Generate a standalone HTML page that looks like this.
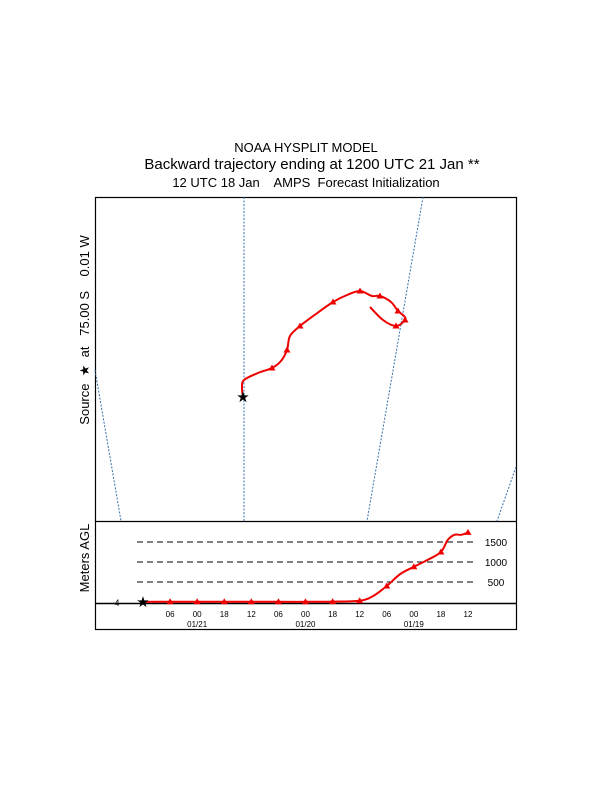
<!DOCTYPE html>
<html><head><meta charset="utf-8"><style>
body{margin:0;background:#fff}
svg{display:block;font-family:"Liberation Sans",sans-serif}
</style></head><body>
<svg id="c" width="612" height="792" viewBox="0 0 612 792">
<text x="306" y="152" font-size="13" text-anchor="middle">NOAA HYSPLIT MODEL</text>
<text x="312" y="169" font-size="15" text-anchor="middle">Backward trajectory ending at 1200 UTC 21 Jan **</text>
<text x="306" y="187" font-size="13" text-anchor="middle" xml:space="preserve">12 UTC 18 Jan    AMPS  Forecast Initialization</text>
<rect x="95.5" y="197.5" width="421" height="432" fill="none" stroke="#000" stroke-width="1.2"/>
<line x1="95" y1="521.5" x2="516" y2="521.5" stroke="#000" stroke-width="1.2"/>
<g stroke="#3a6fa8" stroke-width="1" stroke-dasharray="2,1.5" fill="none">
<line x1="244" y1="197" x2="244" y2="521"/>
<line x1="423" y1="197" x2="367" y2="521"/>
<line x1="95" y1="370" x2="121" y2="521"/>
<line x1="516" y1="467" x2="497" y2="521"/>
</g>
<text transform="translate(89,330) rotate(-90)" font-size="13" text-anchor="middle" xml:space="preserve">Source  ★  at   75.00 S    0.01 W</text>
<text transform="translate(89,558) rotate(-90)" font-size="13" text-anchor="middle">Meters AGL</text>
<g id="g"></g>
</svg>
<script>
// trajectory map track (pixel-projected positions, hourly nodes with markers every 6h)
const trackX = [243,242,244,258,272,281,287,290,300,316,333,347,360,372,380,391,398,404,405,396,383,370];
const trackY = [397,388,380,373,368,361,350,336,326,314,302,295,291,296,296,302,311,316,320,326,320,307];
const markerIdx = [4,6,8,10,12,14,16,18,19];
// height panel
const hours = [0,6,12,18,24,30,36,42,48,51,54,57,60,63,66,67.5,69,70.5,72];
const heights = [4,5,5,5,5,5,5,10,30,150,400,700,880,1050,1250,1550,1680,1680,1740];
const markHours = [6,12,18,24,30,36,42,48,54,60,66,72];
const levels = [500,1000,1500];
const tickLabels = ["06","00","18","12","06","00","18","12","06","00","18","12"];
const dateLabels = [["01/21",12],["01/20",36],["01/19",60]];
const NS='http://www.w3.org/2000/svg';
const g=document.getElementById('g');
function el(t,a){const e=document.createElementNS(NS,t);for(const k in a)e.setAttribute(k,a[k]);g.appendChild(e);return e;}
const hx=h=>143+h*(325/72);
const hy=m=>602-m*0.04;
function smooth(pts){let d='M'+pts[0][0]+','+pts[0][1];
 for(let i=0;i<pts.length-1;i++){const p0=pts[i-1]||pts[i],p1=pts[i],p2=pts[i+1],p3=pts[i+2]||p2;
  d+=` C${p1[0]+(p2[0]-p0[0])/6},${p1[1]+(p2[1]-p0[1])/6} ${p2[0]-(p3[0]-p1[0])/6},${p2[1]-(p3[1]-p1[1])/6} ${p2[0]},${p2[1]}`;}
 return d;}
levels.forEach(v=>{
 const l=el('line',{x1:137,x2:474,y1:hy(v),y2:hy(v),stroke:'#000','stroke-dasharray':'6,4','stroke-width':1});
 
 
 const t=el('text',{x:496,y:hy(v)+4,'font-size':10,'text-anchor':'middle'});t.textContent=v;
 
 
});
const base=el('line',{x1:95,x2:516,y1:603.5,y2:603.5,stroke:'#000','stroke-width':1.5});


const four=el('text',{x:117,y:606,'font-size':9,'text-anchor':'middle'});four.textContent='4';


markHours.forEach((h,i)=>{
 const t=el('text',{x:hx(h),y:617,'font-size':8,'text-anchor':'middle'});t.textContent=tickLabels[i];
 
 
});
dateLabels.forEach(d=>{
 const t=el('text',{x:hx(d[1]),y:627,'font-size':8,'text-anchor':'middle'});t.textContent=d[0];
 
 
});
function tri(x,y,name){const p=el('polygon',{points:`${x},${y-3.5} ${x-3.5},${y+2.5} ${x+3.5},${y+2.5}`,fill:'#e00'});
 
 }
const hp=el('path',{d:smooth(hours.map((h,i)=>[hx(h),hy(heights[i])])),fill:'none',stroke:'#e00','stroke-width':2});


markHours.forEach(h=>{
 let i=hours.indexOf(h);tri(hx(h),hy(heights[i]),'height-marker');
});
const tp=el('path',{d:smooth(trackX.map((x,i)=>[x,trackY[i]])),fill:'none',stroke:'#e00','stroke-width':2});


markerIdx.forEach(i=>tri(trackX[i],trackY[i],'trajectory-marker'));
function star(x,y,name){const s=el('text',{x:x,y:y+5,'font-size':15,'text-anchor':'middle'});s.textContent='★';
 
 }
star(trackX[0],trackY[0],'source-star');
star(hx(0),hy(heights[0]),'height-source-star');
</script>
</body></html>
